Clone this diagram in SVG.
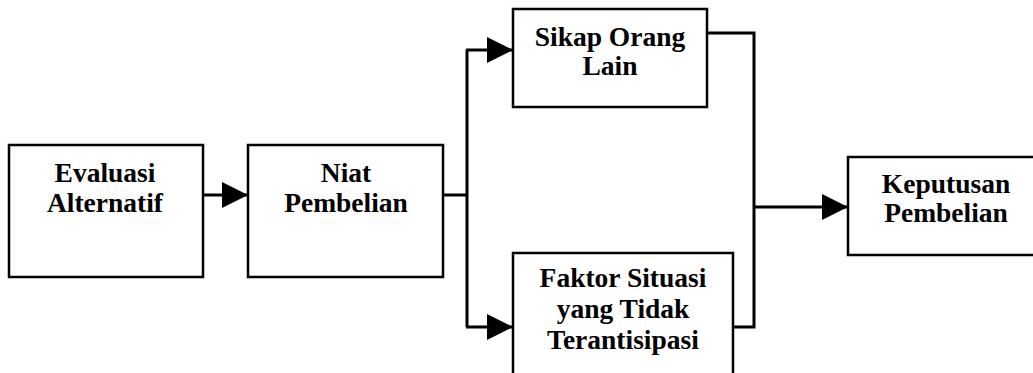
<svg xmlns="http://www.w3.org/2000/svg" width="1033" height="373" viewBox="0 0 1033 373">
<style>
.box{fill:#fff;stroke:#000;stroke-width:2.5}
.lbl{font-family:"Liberation Serif","Times New Roman",serif;font-weight:bold;font-size:27.5px;fill:#000;text-anchor:middle}
.con{fill:none;stroke:#000;stroke-width:3}
</style>
<defs>
<marker id="arr" viewBox="0 0 26 26" refX="26" refY="13" markerWidth="26" markerHeight="26" markerUnits="userSpaceOnUse" orient="auto">
<path d="M0,0 L26,13 L0,26 Z" fill="#000"/>
</marker>
</defs>
<rect width="1033" height="373" fill="#fff"/>
<g id="connectors">
<path class="con" d="M203,195 H248" marker-end="url(#arr)"/>
<path class="con" d="M443,195 H467"/>
<path class="con" d="M467,50 V327"/>
<path class="con" d="M466,50 H513" marker-end="url(#arr)"/>
<path class="con" d="M466,327 H513" marker-end="url(#arr)"/>
<path class="con" d="M707,33 H754 V327 H733"/>
<path class="con" d="M754,207 H848" marker-end="url(#arr)"/>
</g>
<g id="node-evaluasi">
<rect class="box" x="9" y="145" width="194" height="132"/>
<text class="lbl" x="105" y="182">Evaluasi</text>
<text class="lbl" x="105" y="212">Alternatif</text>
</g>
<g id="node-niat">
<rect class="box" x="248" y="145" width="195" height="132"/>
<text class="lbl" x="346" y="182">Niat</text>
<text class="lbl" x="346" y="212">Pembelian</text>
</g>
<g id="node-sikap">
<rect class="box" x="513" y="9" width="194" height="98"/>
<text class="lbl" x="610" y="46">Sikap Orang</text>
<text class="lbl" x="610" y="75">Lain</text>
</g>
<g id="node-faktor">
<rect class="box" x="513" y="253" width="220" height="130"/>
<text class="lbl" x="623" y="287">Faktor Situasi</text>
<text class="lbl" x="623" y="318">yang Tidak</text>
<text class="lbl" x="623" y="349">Terantisipasi</text>
</g>
<g id="node-keputusan">
<rect class="box" x="848" y="157" width="196" height="98"/>
<text class="lbl" x="946" y="193">Keputusan</text>
<text class="lbl" x="946" y="222">Pembelian</text>
</g>
</svg>
